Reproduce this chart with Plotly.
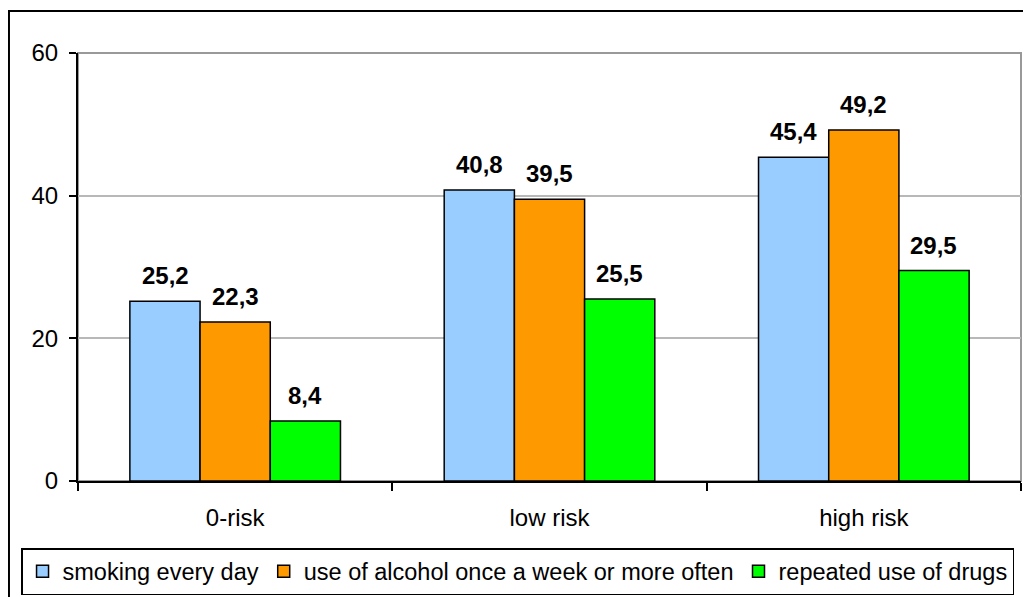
import plotly.graph_objects as go

categories = ["0-risk", "low risk", "high risk"]
series_names = ["smoking every day", "use of alcohol once a week or more often", "repeated use of drugs"]
smoking = [25.2, 40.8, 45.4]
alcohol = [22.3, 39.5, 49.2]
drugs = [8.4, 25.5, 29.5]
y_ticks = [0, 20, 40, 60]

colors = ["#99CCFF", "#FF9900", "#00FF00"]
FONT = "Liberation Sans, Arial, sans-serif"

fig = go.Figure()
for name, vals, col in zip(series_names, [smoking, alcohol, drugs], colors):
    fig.add_trace(go.Bar(
        x=categories, y=vals, name=name,
        marker=dict(color=col, line=dict(color="black", width=1.5)),
    ))

# value labels above bars
offsets = [-70, 0, 70]
for vals, dx in zip([smoking, alcohol, drugs], offsets):
    for c, v in zip(categories, vals):
        fig.add_annotation(
            x=c, y=v, xref="x", yref="y", text=f"{v:.1f}".replace(".", ","),
            showarrow=False, xshift=dx, yshift=10, yanchor="bottom",
            font=dict(family=FONT, size=24, color="black", weight="bold"),
        )

# plot frame (gray top/right)
fig.add_shape(type="rect", xref="paper", yref="paper", x0=0, x1=1, y0=0, y1=1,
              line=dict(color="#999999", width=2), layer="below")
# outer chart border
fig.add_shape(type="rect", xref="paper", yref="paper", x0=-0.0732, x1=1.1, y0=-0.4, y1=1.098,
              line=dict(color="black", width=2))

fig.update_layout(
    width=1023, height=589,
    margin=dict(l=70, r=10, t=45, b=116, autoexpand=False),
    paper_bgcolor="white", plot_bgcolor="white",
    barmode="group", bargap=0.33, bargroupgap=0,
    font=dict(family=FONT, size=24, color="black"),
    showlegend=True,
    legend=dict(
        orientation="h", xref="paper", yref="paper",
        x=-0.0604, xanchor="left", y=-0.2664, yanchor="bottom",
        bordercolor="black", borderwidth=1.5, bgcolor="white",
        font=dict(family=FONT, size=23.5, color="black"),
        itemwidth=30, tracegroupgap=0,
    ),
)
fig.update_xaxes(
    showline=True, linecolor="black", linewidth=2,
    ticks="outside", tickson="boundaries", ticklen=8, tickwidth=2, tickcolor="black",
    showgrid=False, ticklabelstandoff=14,
)
fig.update_yaxes(
    range=[0, 60], tickvals=y_ticks, showline=True, linecolor="black", linewidth=2,
    ticks="outside", ticklen=7, tickwidth=2, tickcolor="black",
    showgrid=True, gridcolor="#B8B8B8", gridwidth=1.5, zeroline=False,
    ticklabelstandoff=6,
)

fig.write_html("out.html")
